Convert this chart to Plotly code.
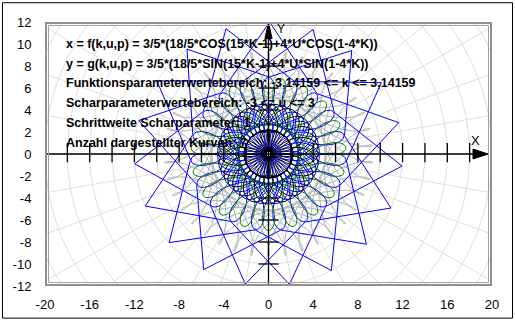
import numpy as np
import plotly.graph_objects as go

# ---- data ---------------------------------------------------------------
U_VALUES = [-3, -2, -1, 0, 1, 2, 3]
U_COLORS = ["#b4b4b4", "#008000", "#000000", "#000000", "#0000ff", "#0000ff", "#b4b4b4"]
DRAW_ORDER = [-3, 3, 0, 2, -2, 1, -1]
K_MIN, K_MAX = -3.14159, 3.14159

# large blue star
STAR_OUTER_R = 12.0
STAR_INNER_R = 7.0
STAR_POINTS = 19
STAR_START_DEG = -81.0
STAR_SKIP = 4

X_TICKS = [-20, -16, -12, -8, -4, 0, 4, 8, 12, 16, 20]
Y_TICKS = [-12, -10, -8, -6, -4, -2, 0, 2, 4, 6, 8, 10, 12]
X_RANGE = [-20, 20]
Y_RANGE = [-12, 12]
AXIS_TICK_STEP = 2

TEXT_LINES = [
    "x = f(k,u,p) = 3/5*(18/5*COS(15*K-1)+4*U*COS(1-4*K))",
    "y = g(k,u,p) = 3/5*(18/5*SIN(15*K-1)+4*U*SIN(1-4*K))",
    "Funktionsparameterwertebereich: -3,14159 <= k <= 3,14159",
    "Scharparameterwertebereich: -3 <= u <= 3",
    "Schrittweite Scharparameter: 1",
    "Anzahl dargestellter Kurven: 7",
]

# ---- geometry --------------------------------------------------------------
W, H = 515, 324
PL, PR, PT, PB = 45, 492, 22, 289   # plot frame in pixels


def px_x(p):
    return (p - PL) / (PR - PL)


def px_y(p):
    return (PB - p) / (PB - PT)


fig = go.Figure()

# polar background grid
gx, gy = [], []
t = np.linspace(0, 2 * np.pi, 361)
for r in np.arange(2, 26, 2):
    gx += list(r * np.cos(t)) + [None]
    gy += list(r * np.sin(t)) + [None]
for a in np.arange(0, 360, 10):
    ar = np.deg2rad(a)
    gx += [0, 30 * np.cos(ar), None]
    gy += [0, 30 * np.sin(ar), None]
fig.add_trace(go.Scatter(x=gx, y=gy, mode="lines",
                         line=dict(color="#dedede", width=1),
                         hoverinfo="skip", showlegend=False))

# curve family
k = np.linspace(K_MIN, K_MAX, 3000)
color_of = dict(zip(U_VALUES, U_COLORS))


def add_curve(u):
    x = 3 / 5 * (18 / 5 * np.cos(15 * k - 1) + 4 * u * np.cos(1 - 4 * k))
    y = 3 / 5 * (18 / 5 * np.sin(15 * k - 1) + 4 * u * np.sin(1 - 4 * k))
    fig.add_trace(go.Scatter(x=x, y=y, mode="lines",
                             line=dict(color=color_of[u], width=1),
                             showlegend=False, hoverinfo="skip"))


for u in DRAW_ORDER[:2]:
    add_curve(u)

# star
step = 360.0 / STAR_POINTS
sx, sy = [], []
for j in range(2 * STAR_POINTS + 1):
    ang = np.deg2rad(STAR_START_DEG + j * (STAR_SKIP / 2) * step)
    r = STAR_OUTER_R if j % 2 == 0 else STAR_INNER_R
    sx.append(r * np.cos(ang))
    sy.append(r * np.sin(ang))
fig.add_trace(go.Scatter(x=sx, y=sy, mode="lines",
                         line=dict(color="#0000ff", width=1),
                         showlegend=False, hoverinfo="skip"))

for u in DRAW_ORDER[2:]:
    add_curve(u)

# axes with ticks
ax_x, ax_y = [X_RANGE[0], 19.0, None, 0, 0, None], [0, 0, None, Y_RANGE[0], 10.8, None]
for v in np.arange(-18, 19, AXIS_TICK_STEP):
    if v == 0:
        continue
    ax_x += [v, v, None]
    ax_y += [-0.75, 1.0, None]
for v in np.arange(-10, 11, AXIS_TICK_STEP):
    if v == 0:
        continue
    ax_x += [-0.9, 0.9, None]
    ax_y += [v, v, None]
fig.add_trace(go.Scatter(x=ax_x, y=ax_y, mode="lines",
                         line=dict(color="black", width=1.3),
                         showlegend=False, hoverinfo="skip"))

shapes = []
# arrowheads
shapes.append(dict(type="path", xref="x", yref="y",
                   path="M 18.3 -0.45 L 19.65 0 L 18.3 0.45 Z",
                   fillcolor="black", line=dict(color="black", width=1)))
shapes.append(dict(type="path", xref="x", yref="y",
                   path="M -0.32 10.5 L 0 11.95 L 0.32 10.5 Z",
                   fillcolor="black", line=dict(color="black", width=1)))
# frames
shapes.append(dict(type="rect", xref="paper", yref="paper",
                   x0=px_x(PL + 1), x1=px_x(PR - 1), y0=px_y(PB - 1), y1=px_y(PT + 1),
                   line=dict(color="#909090", width=2)))
shapes.append(dict(type="rect", xref="paper", yref="paper",
                   x0=px_x(PL + 3.5), x1=px_x(PR - 3.5), y0=px_y(PB - 3.5), y1=px_y(PT + 3.5),
                   line=dict(color="#a0a0a0", width=1)))
shapes.append(dict(type="rect", xref="paper", yref="paper",
                   x0=px_x(2.5), x1=px_x(512.5), y0=px_y(321.5), y1=px_y(2.5),
                   line=dict(color="black", width=1)))

annotations = []
for i, line in enumerate(TEXT_LINES):
    annotations.append(dict(text="<b>" + line + "</b>", xref="paper", yref="paper",
                            x=px_x(64), y=px_y(44 + 20 * i), xanchor="left",
                            yanchor="middle", showarrow=False,
                            font=dict(family="Liberation Sans", size=12.5, color="black")))
annotations.append(dict(text="X", xref="paper", yref="paper", x=px_x(475), y=px_y(142),
                        showarrow=False, xanchor="center", yanchor="middle",
                        font=dict(family="Liberation Sans", size=13, color="black")))
annotations.append(dict(text="Y", xref="paper", yref="paper", x=px_x(281), y=px_y(29.5),
                        showarrow=False, xanchor="center", yanchor="middle",
                        font=dict(family="Liberation Sans", size=12, color="black")))

fig.update_layout(
    width=W, height=H,
    margin=dict(l=PL, r=W - PR, t=PT, b=H - PB, pad=0),
    paper_bgcolor="white", plot_bgcolor="white",
    shapes=shapes, annotations=annotations,
    showlegend=False,
    xaxis=dict(range=X_RANGE, tickvals=X_TICKS, ticktext=[str(v) for v in X_TICKS],
               showgrid=False, zeroline=False, showline=False,
               ticks="outside", ticklen=6, tickcolor="rgba(0,0,0,0)",
               tickfont=dict(family="Liberation Sans", size=13, color="black"),
               fixedrange=True),
    yaxis=dict(range=Y_RANGE, tickvals=Y_TICKS, ticktext=[str(v) for v in Y_TICKS],
               showgrid=False, zeroline=False, showline=False,
               ticks="outside", ticklen=10, tickcolor="rgba(0,0,0,0)",
               tickfont=dict(family="Liberation Sans", size=13, color="black"),
               fixedrange=True),
)

fig.write_html("out.html")
